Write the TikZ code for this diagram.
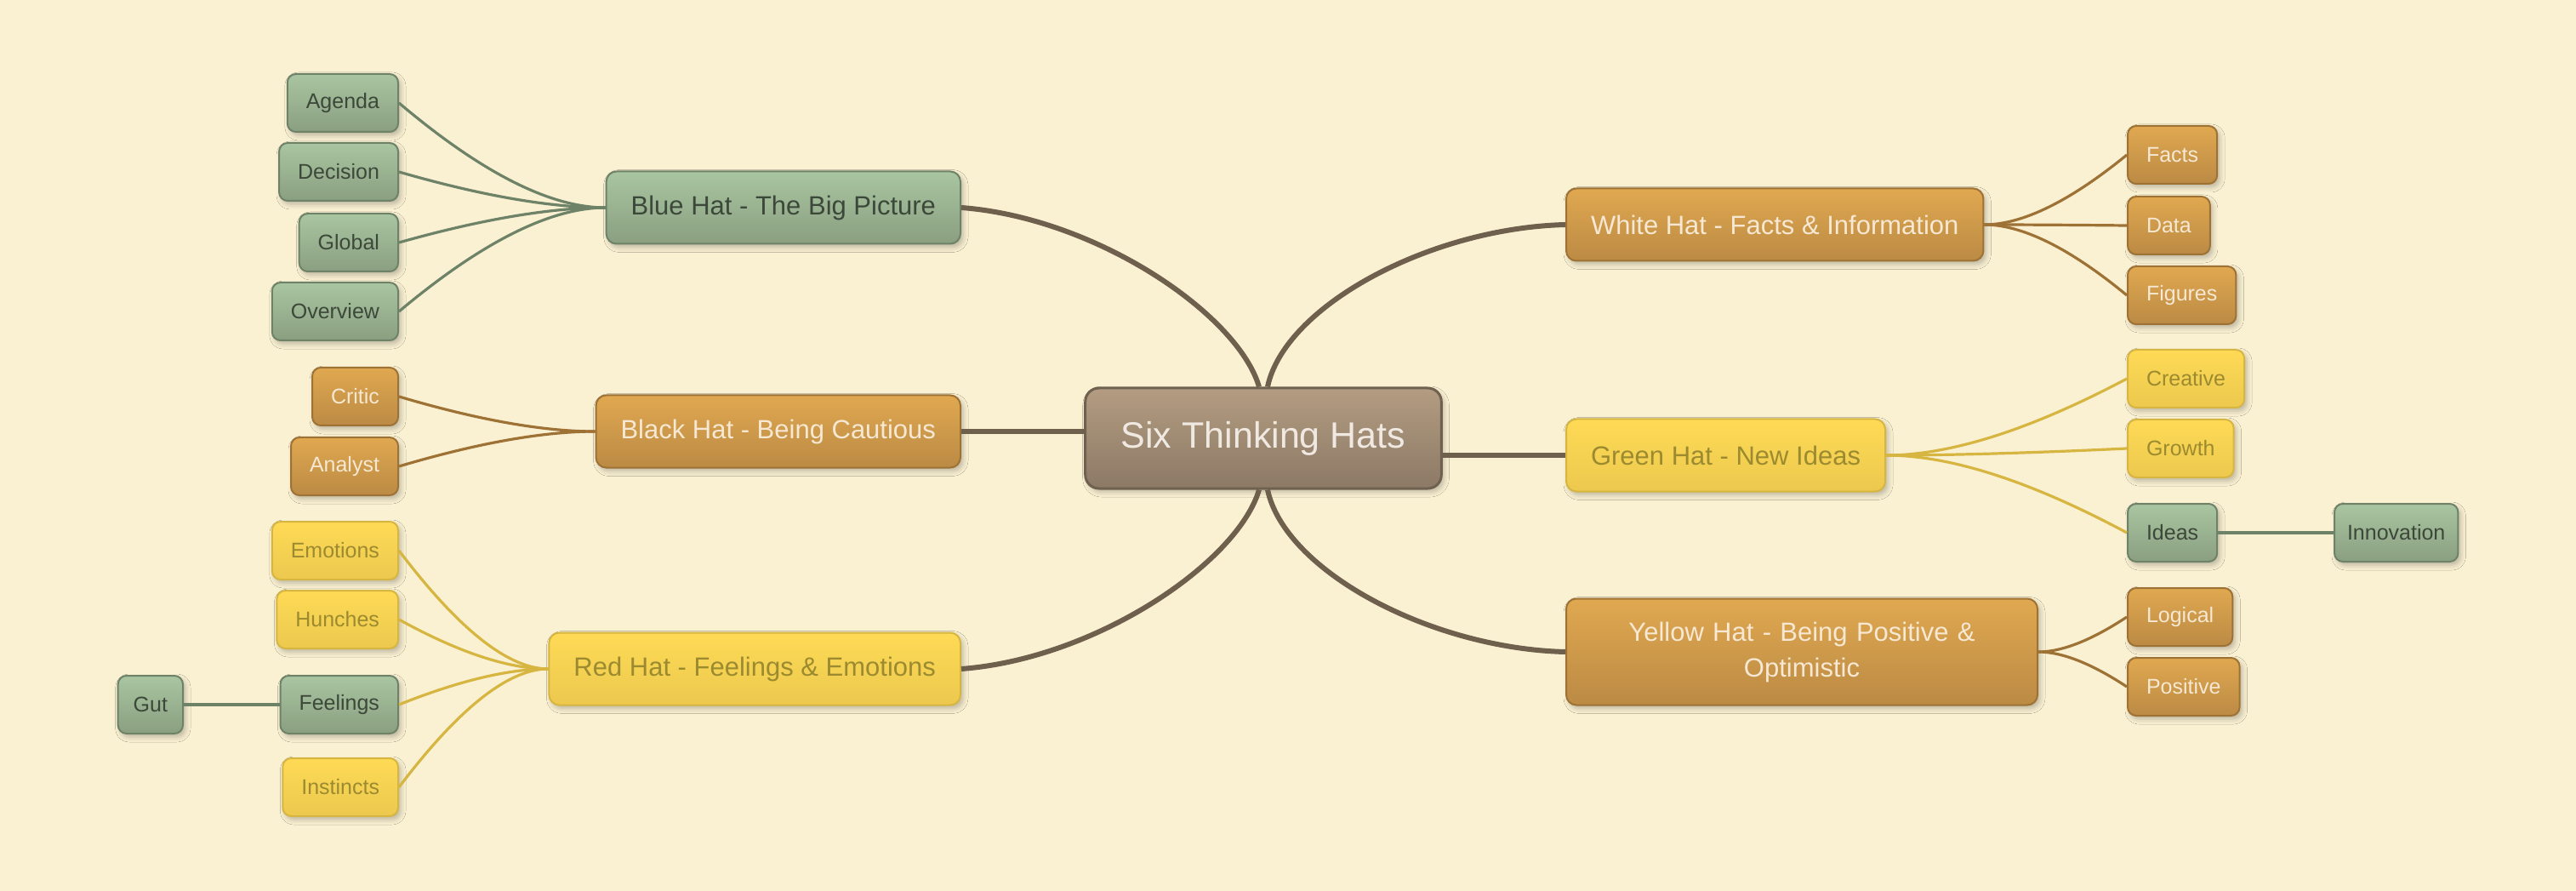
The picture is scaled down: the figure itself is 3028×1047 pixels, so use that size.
\documentclass[tikz,border=0pt]{standalone}
\usepackage{fontspec}
\setmainfont{Liberation Sans}
\usetikzlibrary{calc,shadows.blur}
\definecolor{bg}{HTML}{FAF1D3}
\definecolor{gtop}{HTML}{A9C5A1}
\definecolor{gbot}{HTML}{8A9F80}
\definecolor{gline}{HTML}{6E8268}
\definecolor{gtext}{HTML}{3C4839}
\definecolor{otop}{HTML}{E0A850}
\definecolor{obot}{HTML}{BB8A44}
\definecolor{oline}{HTML}{9E7235}
\definecolor{otext}{HTML}{F6E8D2}
\definecolor{ytop}{HTML}{FEDA56}
\definecolor{ybot}{HTML}{ECC94E}
\definecolor{yline}{HTML}{D6B540}
\definecolor{ytext}{HTML}{9B8A2F}
\definecolor{ctop}{HTML}{B39C81}
\definecolor{cbot}{HTML}{8C7966}
\definecolor{cline}{HTML}{6F614F}
\definecolor{ctext}{HTML}{EFE9E2}
\definecolor{mainline}{HTML}{6E604D}
\tikzset{
  box/.style={draw, line width=1pt, rounded corners=5pt, inner ysep=0pt,
    blur shadow={shadow xshift=1.5pt, shadow yshift=-2pt, shadow blur radius=3pt, shadow opacity=25}},
  leaf/.style={box, font=\fontsize{12.5}{15}\selectfont, minimum height=34pt, inner xsep=11pt},
  hat/.style={box, font=\fontsize{15.5}{21}\selectfont, minimum height=42.5pt, inner xsep=14.5pt, rounded corners=6pt},
  gbox/.style={top color=gtop, bottom color=gbot, draw=gline, text=gtext},
  obox/.style={top color=otop, bottom color=obot, draw=oline, text=otext},
  ybox/.style={top color=ytop, bottom color=ybot, draw=yline, text=ytext},
  cbox/.style={box, top color=ctop, bottom color=cbot, draw=cline, text=ctext, line width=1.5pt,
    rounded corners=8pt, font=\fontsize{21.5}{26}\selectfont, minimum height=59pt, inner xsep=21pt},
  mainedge/.style={draw=mainline, line width=3pt},
  gedge/.style={draw=gline, line width=1.6pt},
  oedge/.style={draw=oline, line width=1.6pt},
  yedge/.style={draw=yline, line width=1.6pt},
  branch/.style={to path={ .. controls ($(\tikztostart)!0.267!(\tikztotarget |- \tikztostart)$)
     and ($(\tikztotarget)!0.667!($(\tikztostart)!0.4!(\tikztotarget |- \tikztostart)$)$) .. (\tikztotarget)}}
}
\begin{document}
\begin{tikzpicture}[x=0.5pt, y=-0.5pt]
\fill[bg] (0,0) rectangle (3028,1047);
\useasboundingbox (0,0) rectangle (3028,1047);

% center
\node[cbox] (center) at (1485,515) {Six Thinking Hats};

% hats
\node[hat, gbox, anchor=east] (blue) at (1130,244) {Blue Hat - The Big Picture};
\node[hat, obox, anchor=east] (black) at (1130,507) {Black Hat - Being Cautious};
\node[hat, ybox, anchor=east] (red) at (1130,786) {Red Hat - Feelings \& Emotions};
\node[hat, obox, anchor=west] (white) at (1840,264) {White Hat - Facts \& Information};
\node[hat, ybox, anchor=west] (green) at (1840,535) {Green Hat - New Ideas};
\node[hat, obox, anchor=west, minimum height=62.5pt, text width=248pt, align=center] (yellow) at (1840,766) {Yellow Hat - Being Positive \&\\Optimistic};

% left leaves
\node[leaf, gbox, anchor=east] (agenda) at (469,121) {Agenda};
\node[leaf, gbox, anchor=east] (decision) at (469,202) {Decision};
\node[leaf, gbox, anchor=east] (global) at (469,285) {Global};
\node[leaf, gbox, anchor=east] (overview) at (469,366) {Overview};
\node[leaf, obox, anchor=east] (critic) at (469,466) {Critic};
\node[leaf, obox, anchor=east] (analyst) at (469,548) {Analyst};
\node[leaf, ybox, anchor=east] (emotions) at (469,647) {Emotions};
\node[leaf, ybox, anchor=east] (hunches) at (469,728) {Hunches};
\node[leaf, gbox, anchor=east] (feelings) at (469,828) {Feelings};
\node[leaf, ybox, anchor=east] (instincts) at (469,925) {Instincts};
\node[leaf, gbox, anchor=east, inner xsep=9pt] (gut) at (216,828) {Gut};

% right leaves
\node[leaf, obox, anchor=west] (facts) at (2500,182) {Facts};
\node[leaf, obox, anchor=west] (data) at (2500,265) {Data};
\node[leaf, obox, anchor=west] (figures) at (2500,347) {Figures};
\node[leaf, ybox, anchor=west] (creative) at (2500,445) {Creative};
\node[leaf, ybox, anchor=west] (growth) at (2500,527) {Growth};
\node[leaf, gbox, anchor=west] (ideas) at (2500,626) {Ideas};
\node[leaf, gbox, anchor=west, inner xsep=7.5pt] (innovation) at (2743,626) {Innovation};
\node[leaf, obox, anchor=west] (logical) at (2500,725) {Logical};
\node[leaf, obox, anchor=west] (positive) at (2500,807) {Positive};

% main edges
\draw[mainedge] (blue.east) .. controls +(159,12) and +(-25,-85) .. ([xshift=-2.5pt]center.north);
\draw[mainedge] (white.west) .. controls +(-159,4) and +(20,-95) .. ([xshift=2.5pt]center.north);
\draw[mainedge] (red.east) .. controls +(159,-12) and +(-25,85) .. ([xshift=-2.5pt]center.south);
\draw[mainedge] (yellow.west) .. controls +(-159,-4) and +(20,95) .. ([xshift=2.5pt]center.south);
\draw[mainedge] (black.east) -- (black.east -| center.west);
\draw[mainedge] (green.west) -- (green.west -| center.east);

% branch edges
\draw[gedge] (blue.west) to[branch] (agenda.east);
\draw[gedge] (blue.west) to[branch] (decision.east);
\draw[gedge] (blue.west) to[branch] (global.east);
\draw[gedge] (blue.west) to[branch] (overview.east);
\draw[oedge] (black.west) to[branch] (critic.east);
\draw[oedge] (black.west) to[branch] (analyst.east);
\draw[yedge] (red.west) to[branch] (emotions.east);
\draw[yedge] (red.west) to[branch] (hunches.east);
\draw[yedge] (red.west) to[branch] (feelings.east);
\draw[yedge] (red.west) to[branch] (instincts.east);
\draw[gedge] (feelings.west) -- (gut.east);
\draw[oedge] (white.east) to[branch] (facts.west);
\draw[oedge] (white.east) to[branch] (data.west);
\draw[oedge] (white.east) to[branch] (figures.west);
\draw[yedge] (green.east) to[branch] (creative.west);
\draw[yedge] (green.east) to[branch] (growth.west);
\draw[yedge] (green.east) to[branch] (ideas.west);
\draw[gedge] (ideas.east) -- (innovation.west);
\draw[oedge] (yellow.east) to[branch] (logical.west);
\draw[oedge] (yellow.east) to[branch] (positive.west);
\end{tikzpicture}
\end{document}
